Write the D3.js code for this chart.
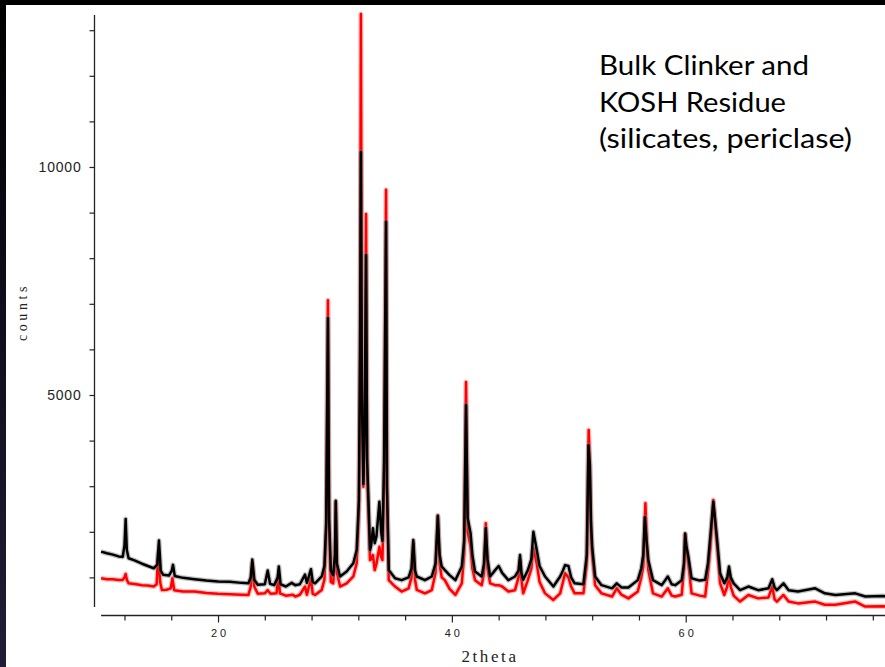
<!DOCTYPE html>
<html>
<head>
<meta charset="utf-8">
<script src="https://cdn.jsdelivr.net/npm/d3@7"></script>
<style>
  html, body { margin: 0; padding: 0; background: #ffffff; }
  svg { display: block; }
</style>
</head>
<body>
<svg id="chart" width="885" height="667"></svg>
<script>
// Powder diffraction patterns: [2theta (degrees), counts]
const bulkClinker = [
  [10.0,1565],[10.5,1530],[11.0,1500],[11.5,1460],[11.85,1450],[12.0,1700],[12.1,2280],[12.2,1600],[12.35,1420],
  [12.8,1380],[13.5,1300],[14.0,1250],[14.5,1200],[14.8,1280],[14.95,1810],[15.1,1150],[15.3,1060],[15.8,1040],
  [16.05,1150],[16.15,1275],[16.3,1030],[17.0,990],[18.0,960],[19.0,930],[20.0,910],[21.0,905],[22.0,880],
  [22.6,870],[22.8,1000],[22.93,1390],[23.1,950],[23.4,840],[24.0,850],[24.25,1150],[24.45,860],[24.8,830],
  [25.1,1000],[25.2,1240],[25.35,850],[25.8,800],[26.3,880],[26.6,830],[27.0,850],[27.44,1060],[27.6,880],
  [27.95,1180],[28.1,900],[28.3,870],[28.87,1020],[29.1,1250],[29.25,2200],[29.4,6690],[29.5,2300],[29.65,1150],
  [29.85,1050],[30.0,1500],[30.07,2680],[30.17,1300],[30.44,1020],[31.0,1130],[31.57,1310],[31.86,1600],
  [32.05,2700],[32.15,6000],[32.22,10330],[32.3,5000],[32.43,3050],[32.55,4500],[32.66,8070],[32.75,3600],
  [33.0,1600],[33.1,1700],[33.25,2080],[33.4,1750],[33.55,1900],[33.8,2660],[33.95,2000],[34.06,1800],
  [34.2,3500],[34.37,8800],[34.45,3000],[34.6,1160],[35.14,980],[35.7,940],[36.3,1000],[36.55,1200],[36.7,1820],
  [36.85,1150],[37.0,1020],[37.7,940],[38.28,1020],[38.6,1300],[38.8,2350],[38.95,1500],[39.13,1240],[39.4,1160],
  [39.8,1050],[40.3,940],[40.85,1240],[41.05,1800],[41.21,4780],[41.35,2300],[41.6,1970],[41.75,1500],[41.98,1130],
  [42.55,1020],[42.75,1300],[42.9,2080],[43.05,1400],[43.27,1020],[43.7,1160],[44.0,1250],[44.3,1100],[44.83,940],
  [45.4,1020],[45.7,1150],[45.83,1490],[45.95,1100],[46.1,950],[46.5,1160],[46.8,1400],[46.97,2000],[47.26,1600],
  [47.5,1250],[47.97,1020],[48.68,800],[49.26,1020],[49.5,1150],[49.68,1270],[49.97,1250],[50.2,1000],[50.5,870],
  [51.25,850],[51.54,1500],[51.68,3900],[51.8,3450],[51.9,2200],[52.0,1670],[52.25,1020],[52.8,830],[53.7,760],
  [54.1,870],[54.5,780],[55.1,780],[55.9,940],[56.2,1200],[56.37,1490],[56.5,2320],[56.65,1800],[56.8,1380],
  [57.2,940],[57.95,830],[58.47,1020],[58.8,850],[59.1,830],[59.66,940],[59.85,1300],[59.95,1960],[60.05,1700],
  [60.23,1450],[60.5,980],[61.2,930],[61.66,950],[61.9,1300],[62.1,1890],[62.36,2660],[62.66,1890],[62.94,1090],
  [63.3,870],[63.55,1000],[63.7,1240],[63.85,1000],[64.1,870],[64.65,720],[65.36,800],[66.2,720],[67.08,760],
  [67.4,960],[67.6,780],[67.8,720],[68.36,870],[68.8,720],[69.6,690],[71.07,760],[71.9,650],[72.8,615],
  [74.5,650],[75.35,580],[76.9,590],[78.0,580]
];

const koshResidue = [
  [10.0,980],[10.5,960],[11.0,960],[11.5,945],[11.85,945],[12.0,1000],[12.1,1075],[12.2,950],[12.35,870],
  [13.0,850],[13.5,830],[14.0,820],[14.5,800],[14.75,850],[14.9,1550],[15.05,900],[15.2,725],[15.6,730],
  [15.95,760],[16.1,980],[16.25,720],[17.0,690],[18.0,690],[19.0,660],[20.0,640],[21.0,630],[22.0,620],
  [22.6,615],[22.8,800],[22.93,1300],[23.1,800],[23.4,640],[24.0,650],[24.25,720],[24.5,640],[25.0,650],
  [25.16,1020],[25.3,650],[25.8,600],[26.4,620],[26.6,580],[27.0,620],[27.44,800],[27.6,620],[27.95,980],
  [28.1,640],[28.3,615],[28.87,725],[29.1,950],[29.25,2000],[29.4,7080],[29.5,2100],[29.65,900],[29.85,870],
  [30.0,1400],[30.07,2650],[30.17,1100],[30.44,800],[31.0,870],[31.57,1020],[31.86,1310],[32.05,2500],
  [32.15,6500],[32.22,13355],[32.3,5500],[32.43,2990],[32.55,4500],[32.66,8970],[32.75,3300],[33.0,1380],
  [33.1,1400],[33.25,1490],[33.4,1160],[33.55,1300],[33.8,1670],[33.95,1450],[34.06,1380],[34.2,3000],
  [34.37,9500],[34.45,3000],[34.6,940],[35.14,800],[35.7,690],[36.3,760],[36.55,1000],[36.7,1750],[36.85,950],
  [37.0,725],[37.7,650],[38.28,720],[38.6,1100],[38.8,2350],[38.95,1300],[39.13,1000],[39.4,940],[39.8,750],
  [40.3,615],[40.85,870],[41.05,1500],[41.21,5285],[41.35,2000],[41.6,1670],[41.75,1200],[41.98,940],
  [42.55,830],[42.75,1100],[42.9,2190],[43.05,1200],[43.27,870],[43.7,830],[44.0,830],[44.3,800],[44.83,690],
  [45.4,720],[45.7,1000],[45.83,1380],[45.95,950],[46.1,650],[46.5,940],[46.8,1200],[46.97,1650],[47.26,1300],
  [47.5,900],[47.97,650],[48.68,505],[49.26,650],[49.5,900],[49.68,1090],[49.97,1000],[50.2,800],[50.5,650],
  [51.25,650],[51.54,1300],[51.7,4230],[51.8,3500],[51.9,2000],[52.0,1490],[52.25,830],[52.8,650],[53.7,580],
  [54.1,760],[54.5,620],[55.1,540],[55.9,690],[56.2,1000],[56.37,1240],[56.55,2625],[56.7,1600],[56.8,1160],
  [57.2,650],[57.95,580],[58.47,760],[58.8,600],[59.1,580],[59.66,620],[59.85,1200],[59.95,1950],[60.05,1650],
  [60.23,1300],[60.5,650],[61.2,600],[61.66,580],[61.9,1100],[62.1,1640],[62.36,2700],[62.66,1750],[62.94,870],
  [63.3,615],[63.55,800],[63.7,1125],[63.85,800],[64.1,600],[64.65,470],[65.36,615],[66.2,540],[67.08,560],
  [67.4,800],[67.6,520],[67.8,470],[68.36,615],[68.8,470],[69.6,430],[71.07,470],[71.9,400],[72.8,400],
  [74.5,470],[75.35,360],[76.9,365],[78.0,360]
];

// Axis ticks and labels
const xTicks = [12,16,20,24,28,32,36,40,44,48,52,56,60,64,68,72,76];
const xLabelled = [20,40,60];
const yTicks = [1000,2000,3000,4000,5000,6000,7000,8000,9000,10000,11000,12000,13000];
const yLabelled = [5000,10000];
const titleLines = ["Bulk Clinker and", "KOSH Residue", "(silicates, periclase)"];
const titleWidths = [210, 187, 253];

const svg = d3.select("#chart");
const W = 885, H = 667;

// Slide frame: dark strip along the top and left edge
const defs = svg.append("defs");
const grad = defs.append("linearGradient").attr("id", "edgeGrad")
  .attr("x1", 0).attr("y1", 0).attr("x2", 0).attr("y2", 1);
grad.append("stop").attr("offset", "0%").attr("stop-color", "#000000");
grad.append("stop").attr("offset", "100%").attr("stop-color", "#211d38");
svg.append("rect").attr("x", 0).attr("y", 0).attr("width", W).attr("height", H).attr("fill", "#ffffff");

// Scales
const x = d3.scaleLinear().domain([10, 80]).range([101.1, 101.1 + 70 * 11.6925]);
const y = d3.scaleLinear().domain([0, 10000]).range([623, 167]);

defs.append("clipPath").attr("id", "plotClip")
  .append("rect").attr("x", 95).attr("y", 0).attr("width", W).attr("height", 614);

// Patterns: residue underneath, clinker on top; a soft halo under each trace
const line = d3.line().x(d => x(d[0])).y(d => y(d[1]));
const plot = svg.append("g").attr("clip-path", "url(#plotClip)");
[[koshResidue, "#ff0000", "#ff6a6a"], [bulkClinker, "#000000", "#777777"]].forEach(([data, col, halo]) => {
  plot.append("path").datum(data)
    .attr("d", line).attr("fill", "none").attr("stroke", halo)
    .attr("stroke-width", 5).attr("stroke-opacity", 0.45).attr("stroke-linejoin", "round");
  plot.append("path").datum(data)
    .attr("d", line).attr("fill", "none").attr("stroke", col)
    .attr("stroke-width", 2.5).attr("stroke-linejoin", "round");
});

// Y axis
const yAxis = d3.axisLeft(y).tickValues(yTicks).tickSize(5).tickSizeOuter(0).tickPadding(8)
  .tickFormat(d => yLabelled.includes(d) ? String(d) : "");
const gy = svg.append("g").attr("transform", "translate(94.5,0)").call(yAxis);
gy.select(".domain").attr("d", "M0,15V607").attr("stroke", "#222").attr("stroke-width", 1.3);
gy.selectAll(".tick line").attr("stroke", "#222").attr("stroke-width", 1.2);
gy.selectAll(".tick text")
  .attr("font-family", "'Liberation Sans', Arial, sans-serif")
  .attr("font-size", 14).attr("letter-spacing", "0.8px").attr("fill", "#222");

// X axis
const xAxis = d3.axisBottom(x).tickValues(xTicks).tickSizeOuter(0).tickPadding(8)
  .tickFormat(d => xLabelled.includes(d) ? String(d) : "");
const gx = svg.append("g").attr("transform", "translate(0,615.5)").call(xAxis);
gx.select(".domain").attr("d", "M" + x(10) + ",0H" + W).attr("stroke", "#222").attr("stroke-width", 1.3);
gx.selectAll(".tick line").attr("stroke", "#222").attr("stroke-width", 1.2)
  .attr("y2", d => xLabelled.includes(d) ? 7 : 5);
gx.selectAll(".tick text")
  .attr("font-family", "'Liberation Sans', Arial, sans-serif")
  .attr("font-size", 11).attr("letter-spacing", "3px").attr("fill", "#222")
  .attr("dx", "1.5px");

// Axis titles
svg.append("text").attr("x", 490).attr("y", 662)
  .attr("text-anchor", "middle")
  .attr("font-family", "'Liberation Serif', 'Times New Roman', serif")
  .attr("font-size", 17).attr("letter-spacing", "2.6px").attr("fill", "#222")
  .text("2theta");
svg.append("text")
  .attr("transform", "translate(27,312) rotate(-90)")
  .attr("text-anchor", "middle")
  .attr("font-family", "'Liberation Serif', 'Times New Roman', serif")
  .attr("font-size", 14).attr("letter-spacing", "3.6px").attr("fill", "#222")
  .text("counts");

// Title block
const title = svg.append("text")
  .attr("font-family", "Lato, 'Open Sans', sans-serif")
  .attr("font-size", 27).attr("fill", "#000");
titleLines.forEach((t, i) => {
  title.append("tspan").attr("x", 599).attr("y", 75 + i * 36.5)
    .attr("textLength", titleWidths[i]).attr("lengthAdjust", "spacingAndGlyphs").text(t);
});

// Frame strips drawn last so they sit above everything
svg.append("rect").attr("x", 0).attr("y", 0).attr("width", 6).attr("height", H).attr("fill", "url(#edgeGrad)");
svg.append("rect").attr("x", 0).attr("y", 0).attr("width", W).attr("height", 5).attr("fill", "#000");
</script>
</body>
</html>
